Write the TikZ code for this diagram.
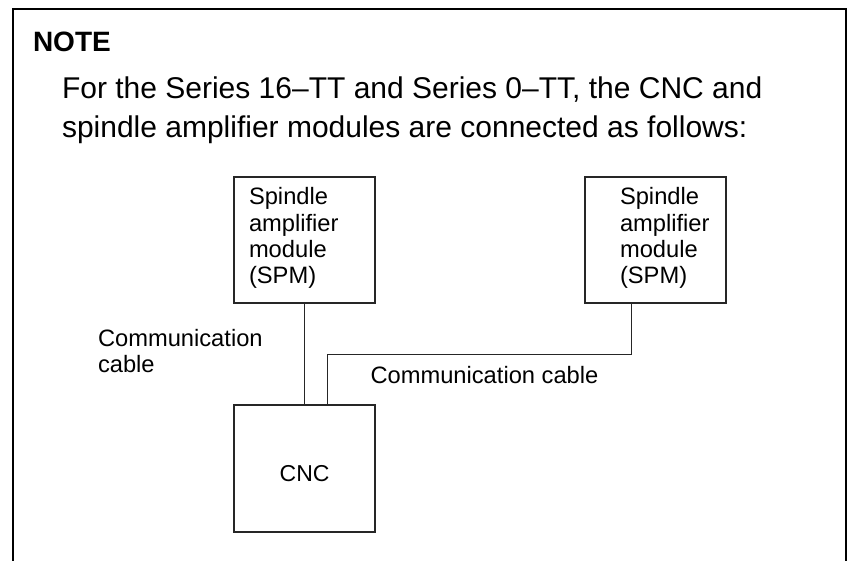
\documentclass[tikz,border=0pt]{standalone}
\usepackage{fontspec}
\setmainfont{Liberation Sans}
\begin{document}
\begin{tikzpicture}[x=1pt,y=-1pt,
  every node/.style={inner sep=0pt, outer sep=0pt},
  frameline/.style={line width=2pt, black},
  boxline/.style={draw, line width=1.2pt, black!85},
  wire/.style={line width=1.2pt, black!85},
  bigtxt/.style={font=\fontsize{30}{39}\selectfont},
  smalltxt/.style={font=\fontsize{23.7}{26}\selectfont, align=left}]
\useasboundingbox (0,0) rectangle (850,561);
% frame (open at the bottom)
\draw[frameline] (12.5,562) -- (12.5,9) -- (846,9) -- (846,562);
% note text
\node[anchor=base west, font=\fontsize{28}{34}\bfseries\selectfont] (note) at (33,52) {NOTE};
\node[anchor=base west, bigtxt] (l1) at (62,99) {For the Series 16--TT and Series 0--TT, the CNC and};
\node[anchor=base west, bigtxt] (l2) at (62,138) {spindle amplifier modules are connected as follows:};
% boxes
\node[boxline, anchor=north west, minimum width=141pt, minimum height=126pt] (spmL) at (234,177) {};
\node[boxline, anchor=north west, minimum width=141pt, minimum height=126pt] (spmR) at (585,177) {};
\node[boxline, anchor=north west, minimum width=141pt, minimum height=127pt] (cnc) at (234,405) {};
% box texts (anchor base = baseline of the last line)
\node[anchor=base west, smalltxt] (spmLt) at (249,283) {Spindle\\amplifier\\module\\(SPM)};
\node[anchor=base west, smalltxt] (spmRt) at (620,283) {Spindle\\amplifier\\module\\(SPM)};
\node[anchor=base, font=\fontsize{23}{26}\selectfont] (cnct) at (304.6,481.5) {CNC};
% cable labels
\node[anchor=base west, smalltxt] (cabL) at (98,372) {Communication\\cable};
\node[anchor=base west, smalltxt] (cabR) at (370.5,383) {Communication cable};
% connectors
\coordinate (jR) at (631.7,354.3);
\coordinate (jL) at (327.7,354.3);
\draw[wire] (spmL.south) -- (cnc.north);
\draw[wire] (spmR.south -| jR) -- (jR) -- (jL) -- (jL |- cnc.north);
\end{tikzpicture}
\end{document}
